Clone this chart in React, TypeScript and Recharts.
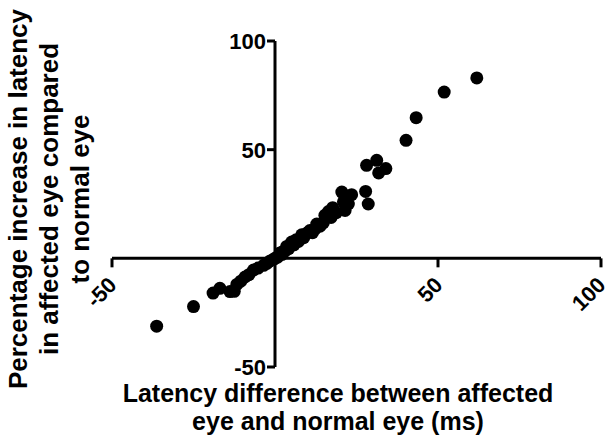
import React from 'react';
import { ScatterChart, Scatter, XAxis, YAxis, ReferenceLine } from 'recharts';

// values
const latencyDiff = [
  -36.3, -25, -19, -16.9, -13.8, -12.5, -11.7, -10.5, -9.2, -8, -6.6, -5.2, -3.5, -2.5, -1.5, -0.5,
  0, 0.8, 1.5, 2.2, 2.5, 3.2, 3.6, 4.2, 5.1, 5.8, 6.5, 7.2, 8.2, 8.8, 9.8, 10.7, 11.5, 12.3, 12.8,
  13.8, 14.8, 15.3, 16.4, 17.2, 17.7, 18.8, 20.5, 21.5, 21, 22.5, 23.5, 27.8, 28.6, 28.1, 31.2, 34,
  31.8, 40.2, 43.3, 51.9, 61.9
];
const pctIncrease = [
  -31.2, -22.2, -16, -13.8, -15.3, -15.2, -12, -10.5, -8.6, -7.5, -5.4, -4.5, -3.2, -2.3, -1.2, -0.5,
  0, 0.6, 2.5, 1.8, 3.2, 3.5, 5.5, 4.5, 7.5, 6.2, 8.5, 7.8, 10.8, 9.5, 11.6, 12.8, 11.8, 13.5, 15.8,
  14.8, 16.3, 19.8, 21.5, 18.8, 23.3, 21, 30.5, 22, 26, 25, 29.3, 30.8, 25, 42.8, 45.1, 41.3,
  39.3, 54.3, 64.7, 76.5, 83
];

const xTicks = [-50, 50, 100];
const yTicks = [-50, 50, 100];
const xDomain = [-50, 100];
const yDomain = [-50, 100];
const xTitle = ['Latency difference between affected', 'eye and normal eye (ms)'];
const yTitle = ['Percentage increase in latency', 'in affected eye compared', 'to normal eye'];

const W = 605;
const H = 437;
const Y_AXIS_W = 112;
const X_AXIS_H = 70;
const TOP = 41;
const RIGHT = 4;
const PLOT_W = W - Y_AXIS_W - RIGHT;
const PLOT_H = H - TOP - X_AXIS_H;
// where the axes cross (value 0 on both)
const ZERO_X = Y_AXIS_W + (PLOT_W * (0 - xDomain[0])) / (xDomain[1] - xDomain[0]);
const ZERO_Y = TOP + (PLOT_H * (yDomain[1] - 0)) / (yDomain[1] - yDomain[0]);

const FONT = "'Liberation Sans', Arial, sans-serif";

const XTick = ({ x, payload }: any) => (
  <g>
    <line x1={x} y1={ZERO_Y} x2={x} y2={ZERO_Y + 9} stroke="#000" strokeWidth={3} />
    <text
      x={x + 6}
      y={ZERO_Y + 28}
      transform={`rotate(-45 ${x + 6} ${ZERO_Y + 28})`}
      textAnchor="end"
      fontSize={22}
      fontWeight="bold"
      fontFamily={FONT}
      fill="#000"
    >
      {payload.value}
    </text>
  </g>
);

const YTick = ({ y, payload }: any) => (
  <g>
    <line x1={ZERO_X - 8} y1={y} x2={ZERO_X} y2={y} stroke="#000" strokeWidth={3} />
    <text
      x={ZERO_X - 9}
      y={y}
      dy="0.36em"
      textAnchor="end"
      fontSize={22}
      fontWeight="bold"
      fontFamily={FONT}
      fill="#000"
    >
      {payload.value}
    </text>
  </g>
);

const Dot = (props: any) => <circle cx={props.cx} cy={props.cy} r={6.5} fill="#000" />;

export default function App() {
  const data = latencyDiff.map((x, i) => ({ x, y: pctIncrease[i] }));

  return (
    <div style={{ position: 'absolute', left: 0, top: 0, width: W, height: H, background: '#fff' }}>
      <ScatterChart width={W} height={H} margin={{ top: TOP, right: RIGHT, bottom: 0, left: 0 }}>
        <XAxis
          type="number"
          dataKey="x"
          domain={xDomain}
          ticks={xTicks}
          interval={0}
          height={X_AXIS_H}
          axisLine={false}
          tickLine={false}
          tick={<XTick />}
        />
        <YAxis
          type="number"
          dataKey="y"
          domain={yDomain}
          ticks={yTicks}
          interval={0}
          width={Y_AXIS_W}
          axisLine={false}
          tickLine={false}
          tick={<YTick />}
        />
        <ReferenceLine y={0} stroke="#000" strokeWidth={3} />
        <ReferenceLine x={0} stroke="#000" strokeWidth={3} />
        <Scatter data={data} fill="#000" shape={<Dot />} isAnimationActive={false} />
      </ScatterChart>

      {/* axis titles */}
      <svg width={W} height={H} style={{ position: 'absolute', left: 0, top: 0, pointerEvents: 'none' }}>
        <g fontFamily={FONT} fontWeight="bold" fill="#000">
          {xTitle.map((t, i) => (
            <text key={t} x={338} y={402 + i * 28} textAnchor="middle" fontSize={25}>
              {t}
            </text>
          ))}
          {yTitle.map((t, i) => (
            <text
              key={t}
              x={27 + i * 31}
              y={199}
              transform={`rotate(-90 ${27 + i * 31} 199)`}
              textAnchor="middle"
              fontSize={26}
            >
              {t}
            </text>
          ))}
        </g>
      </svg>
    </div>
  );
}
